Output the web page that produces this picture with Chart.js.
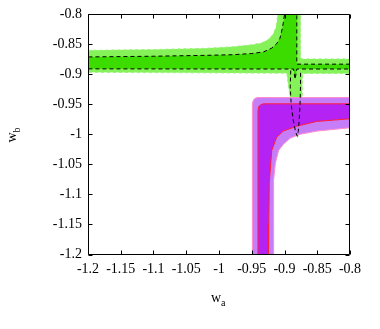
<!DOCTYPE html>
<html>
<head>
<meta charset="utf-8">
<script src="https://cdn.jsdelivr.net/npm/chart.js@4.4.1/dist/chart.umd.min.js"></script>
<style>
  html, body { margin: 0; padding: 0; background: #fff; }
  #wrap { width: 380px; height: 329px; }
</style>
</head>
<body>
<div id="wrap"><canvas id="contourChart" width="380" height="329"></canvas></div>
<script>
// ══════════════════════════════════════════════════════════════════
//  DATA — contour outlines, [w_a, w_b] pairs
// ══════════════════════════════════════════════════════════════════
const xTickLabels = ['-1.2', '-1.15', '-1.1', '-1.05', '-1', '-0.95', '-0.9', '-0.85', '-0.8'];
const yTickLabels = ['-1.2', '-1.15', '-1.1', '-1.05', '-1', '-0.95', '-0.9', '-0.85', '-0.8'];

// green, outer (light) region
const greenOuter = [
  [-1.21, -0.8600], [-1.10, -0.8585], [-1.02, -0.8565], [-0.98, -0.8540],
  [-0.95, -0.8505], [-0.935, -0.8475], [-0.925, -0.8420], [-0.918, -0.8340],
  [-0.9135, -0.8230], [-0.9115, -0.8120], [-0.9105, -0.8000], [-0.910, -0.7900],
  [-0.8754, -0.7900], [-0.8754, -0.8720], [-0.8735, -0.8741], [-0.7900, -0.8741],
  [-0.7900, -0.8985], [-0.8725, -0.8985], [-0.8728, -0.9150], [-0.8730, -0.9400],
  [-0.8745, -0.9600], [-0.8770, -0.9850], [-0.8800, -1.0060], [-0.8835, -0.9880],
  [-0.8875, -0.9650], [-0.8915, -0.9400], [-0.8945, -0.9150], [-0.8965, -0.8980],
  [-1.21, -0.8965]
];

// green, inner (dark) region
const greenInner = [
  [-1.21, -0.8710], [-1.10, -0.8697], [-1.02, -0.8682], [-0.98, -0.8672],
  [-0.95, -0.8652], [-0.932, -0.8625], [-0.920, -0.8565], [-0.912, -0.8490],
  [-0.907, -0.8400], [-0.9043, -0.8280], [-0.9020, -0.8150], [-0.9000, -0.8000],
  [-0.8995, -0.7900], [-0.8812, -0.7900], [-0.8812, -0.8829], [-0.7900, -0.8829],
  [-0.7900, -0.8910], [-0.8812, -0.8910], [-0.8838, -0.9080], [-0.8862, -0.8910],
  [-1.21, -0.8907]
];

// black dashed contour lines
const dashUpperLeft = greenInner.slice(0, 13);
const dashUpperRight = [[-0.8812, -0.7900], [-0.8812, -0.8829], [-0.7900, -0.8829]];
const dashLower = [
  [-1.21, -0.8907], [-0.8862, -0.8910], [-0.8838, -0.9080], [-0.8812, -0.8910], [-0.7900, -0.8910]
];
const dashTail = [
  [-0.8905, -0.8935], [-0.8912, -0.9200], [-0.8898, -0.9500], [-0.8868, -0.9750],
  [-0.8832, -0.9950], [-0.8805, -1.0030], [-0.8790, -0.9950], [-0.8775, -0.9750],
  [-0.8763, -0.9500], [-0.8756, -0.9200], [-0.8755, -0.8935]
];

// magenta, outer (light) region
const magentaOuter = [
  [-0.9490, -1.21], [-0.9490, -0.9500], [-0.9480, -0.9440], [-0.9455, -0.9400],
  [-0.9410, -0.9385], [-0.7900, -0.9385], [-0.7900, -0.9878], [-0.8000, -0.9889],
  [-0.8504, -0.9944], [-0.8762, -0.9997], [-0.8910, -1.0061], [-0.9014, -1.0158],
  [-0.9090, -1.0266], [-0.9140, -1.0480], [-0.9170, -1.0800], [-0.9168, -1.1500],
  [-0.9166, -1.21]
];

// magenta, inner (dark) region
const magentaInner = [
  [-0.9405, -1.21], [-0.9405, -0.9600], [-0.9395, -0.9540], [-0.9365, -0.9505],
  [-0.9320, -0.9490], [-0.7900, -0.9490], [-0.7900, -0.9732], [-0.8000, -0.9739],
  [-0.8510, -0.9783], [-0.8814, -0.9863], [-0.9020, -0.9944], [-0.9120, -1.0050],
  [-0.9195, -1.0266], [-0.9232, -1.0802], [-0.9240, -1.1500], [-0.9245, -1.21]
];

const toXY = pts => pts.map(p => ({ x: p[0], y: p[1] }));
const FONT = '"Liberation Serif", "DejaVu Serif", serif';

function region(pts, fillColor, lineColor, order, dash) {
  return {
    data: toXY(pts),
    backgroundColor: fillColor,
    borderColor: lineColor || 'rgba(0,0,0,0)',
    borderWidth: lineColor ? 1 : 0,
    borderDash: dash || [],
    fill: 'shape',
    pointRadius: 0,
    tension: 0,
    order: order,
    clip: 0,
  };
}

function dashed(pts) {
  return {
    data: toXY(pts),
    borderColor: '#000',
    borderWidth: 1,
    borderDash: [4, 3],
    fill: false,
    pointRadius: 0,
    tension: 0,
    order: 0,
    clip: 0,
  };
}

// ══════════════════════════════════════════════════════════════════
//  FRAME, INNER TICKS & AXIS TITLES
// ══════════════════════════════════════════════════════════════════
const framePlugin = {
  id: 'frame',
  afterDraw(chart) {
    const { ctx, chartArea: a, scales } = chart;
    const L = Math.round(a.left) + 0.5, R = Math.round(a.right) - 0.5;
    const T = Math.round(a.top) + 0.5, B = Math.round(a.bottom) - 0.5;
    ctx.save();
    ctx.strokeStyle = '#000';
    ctx.lineWidth = 1;
    ctx.beginPath();
    ctx.rect(L, T, R - L, B - T);
    scales.x.ticks.forEach(t => {
      const px = Math.round(scales.x.getPixelForValue(t.value)) + 0.5;
      ctx.moveTo(px, B); ctx.lineTo(px, B - 4);
      ctx.moveTo(px, T); ctx.lineTo(px, T + 4);
    });
    scales.y.ticks.forEach(t => {
      const py = Math.round(scales.y.getPixelForValue(t.value)) + 0.5;
      ctx.moveTo(L, py); ctx.lineTo(L + 4, py);
      ctx.moveTo(R, py); ctx.lineTo(R - 4, py);
    });
    ctx.stroke();

    // w_a
    ctx.fillStyle = '#000';
    ctx.textBaseline = 'alphabetic';
    ctx.font = '14px ' + FONT;
    const cx = (a.left + a.right) / 2;
    ctx.textAlign = 'left';
    ctx.fillText('w', cx - 8, 302);
    ctx.font = '10px ' + FONT;
    ctx.fillText('a', cx + 2, 306);

    // w_b
    ctx.translate(16, (a.top + a.bottom) / 2);
    ctx.rotate(-Math.PI / 2);
    ctx.font = '14px ' + FONT;
    ctx.fillText('w', -8, 0);
    ctx.font = '10px ' + FONT;
    ctx.fillText('b', 2, 4);
    ctx.restore();
  }
};

// ══════════════════════════════════════════════════════════════════
//  CHART
// ══════════════════════════════════════════════════════════════════
new Chart(document.getElementById('contourChart'), {
  type: 'line',
  data: {
    datasets: [
      region(greenOuter, '#86f25a', '#9cf27c', 5, [3, 3]),
      region(greenInner, '#3cdc00', null, 4),
      region(magentaOuter, '#c77cf8', '#ff8ccc', 3),
      region(magentaInner, '#b422f4', '#ff1f3a', 2),
      dashed(dashUpperLeft),
      dashed(dashUpperRight),
      dashed(dashLower),
      dashed(dashTail),
    ]
  },
  options: {
    responsive: false,
    animation: false,
    devicePixelRatio: 1,
    layout: { padding: { top: 6, right: 30, left: 0, bottom: 0 } },
    plugins: {
      legend: { display: false },
      tooltip: { enabled: false },
      filler: { drawTime: 'beforeDatasetDraw' },
    },
    scales: {
      x: {
        type: 'linear',
        min: -1.2, max: -0.8,
        grid: { display: false, drawTicks: false },
        border: { display: false },
        ticks: {
          stepSize: 0.05,
          padding: 6,
          color: '#000',
          font: { family: FONT, size: 14 },
          maxRotation: 0,
          autoSkip: false,
          callback: v => xTickLabels.find(l => Math.abs(+l - v) < 1e-6) ?? '',
        },
        afterFit: s => { s.height = 74.5; },
      },
      y: {
        type: 'linear',
        min: -1.2, max: -0.8,
        grid: { display: false, drawTicks: false },
        border: { display: false },
        ticks: {
          stepSize: 0.05,
          padding: 6,
          color: '#000',
          font: { family: FONT, size: 14 },
          autoSkip: false,
          callback: v => yTickLabels.find(l => Math.abs(+l - v) < 1e-6) ?? '',
        },
        afterFit: s => { s.width = 88; },
      }
    }
  },
  plugins: [framePlugin]
});
</script>
</body>
</html>
